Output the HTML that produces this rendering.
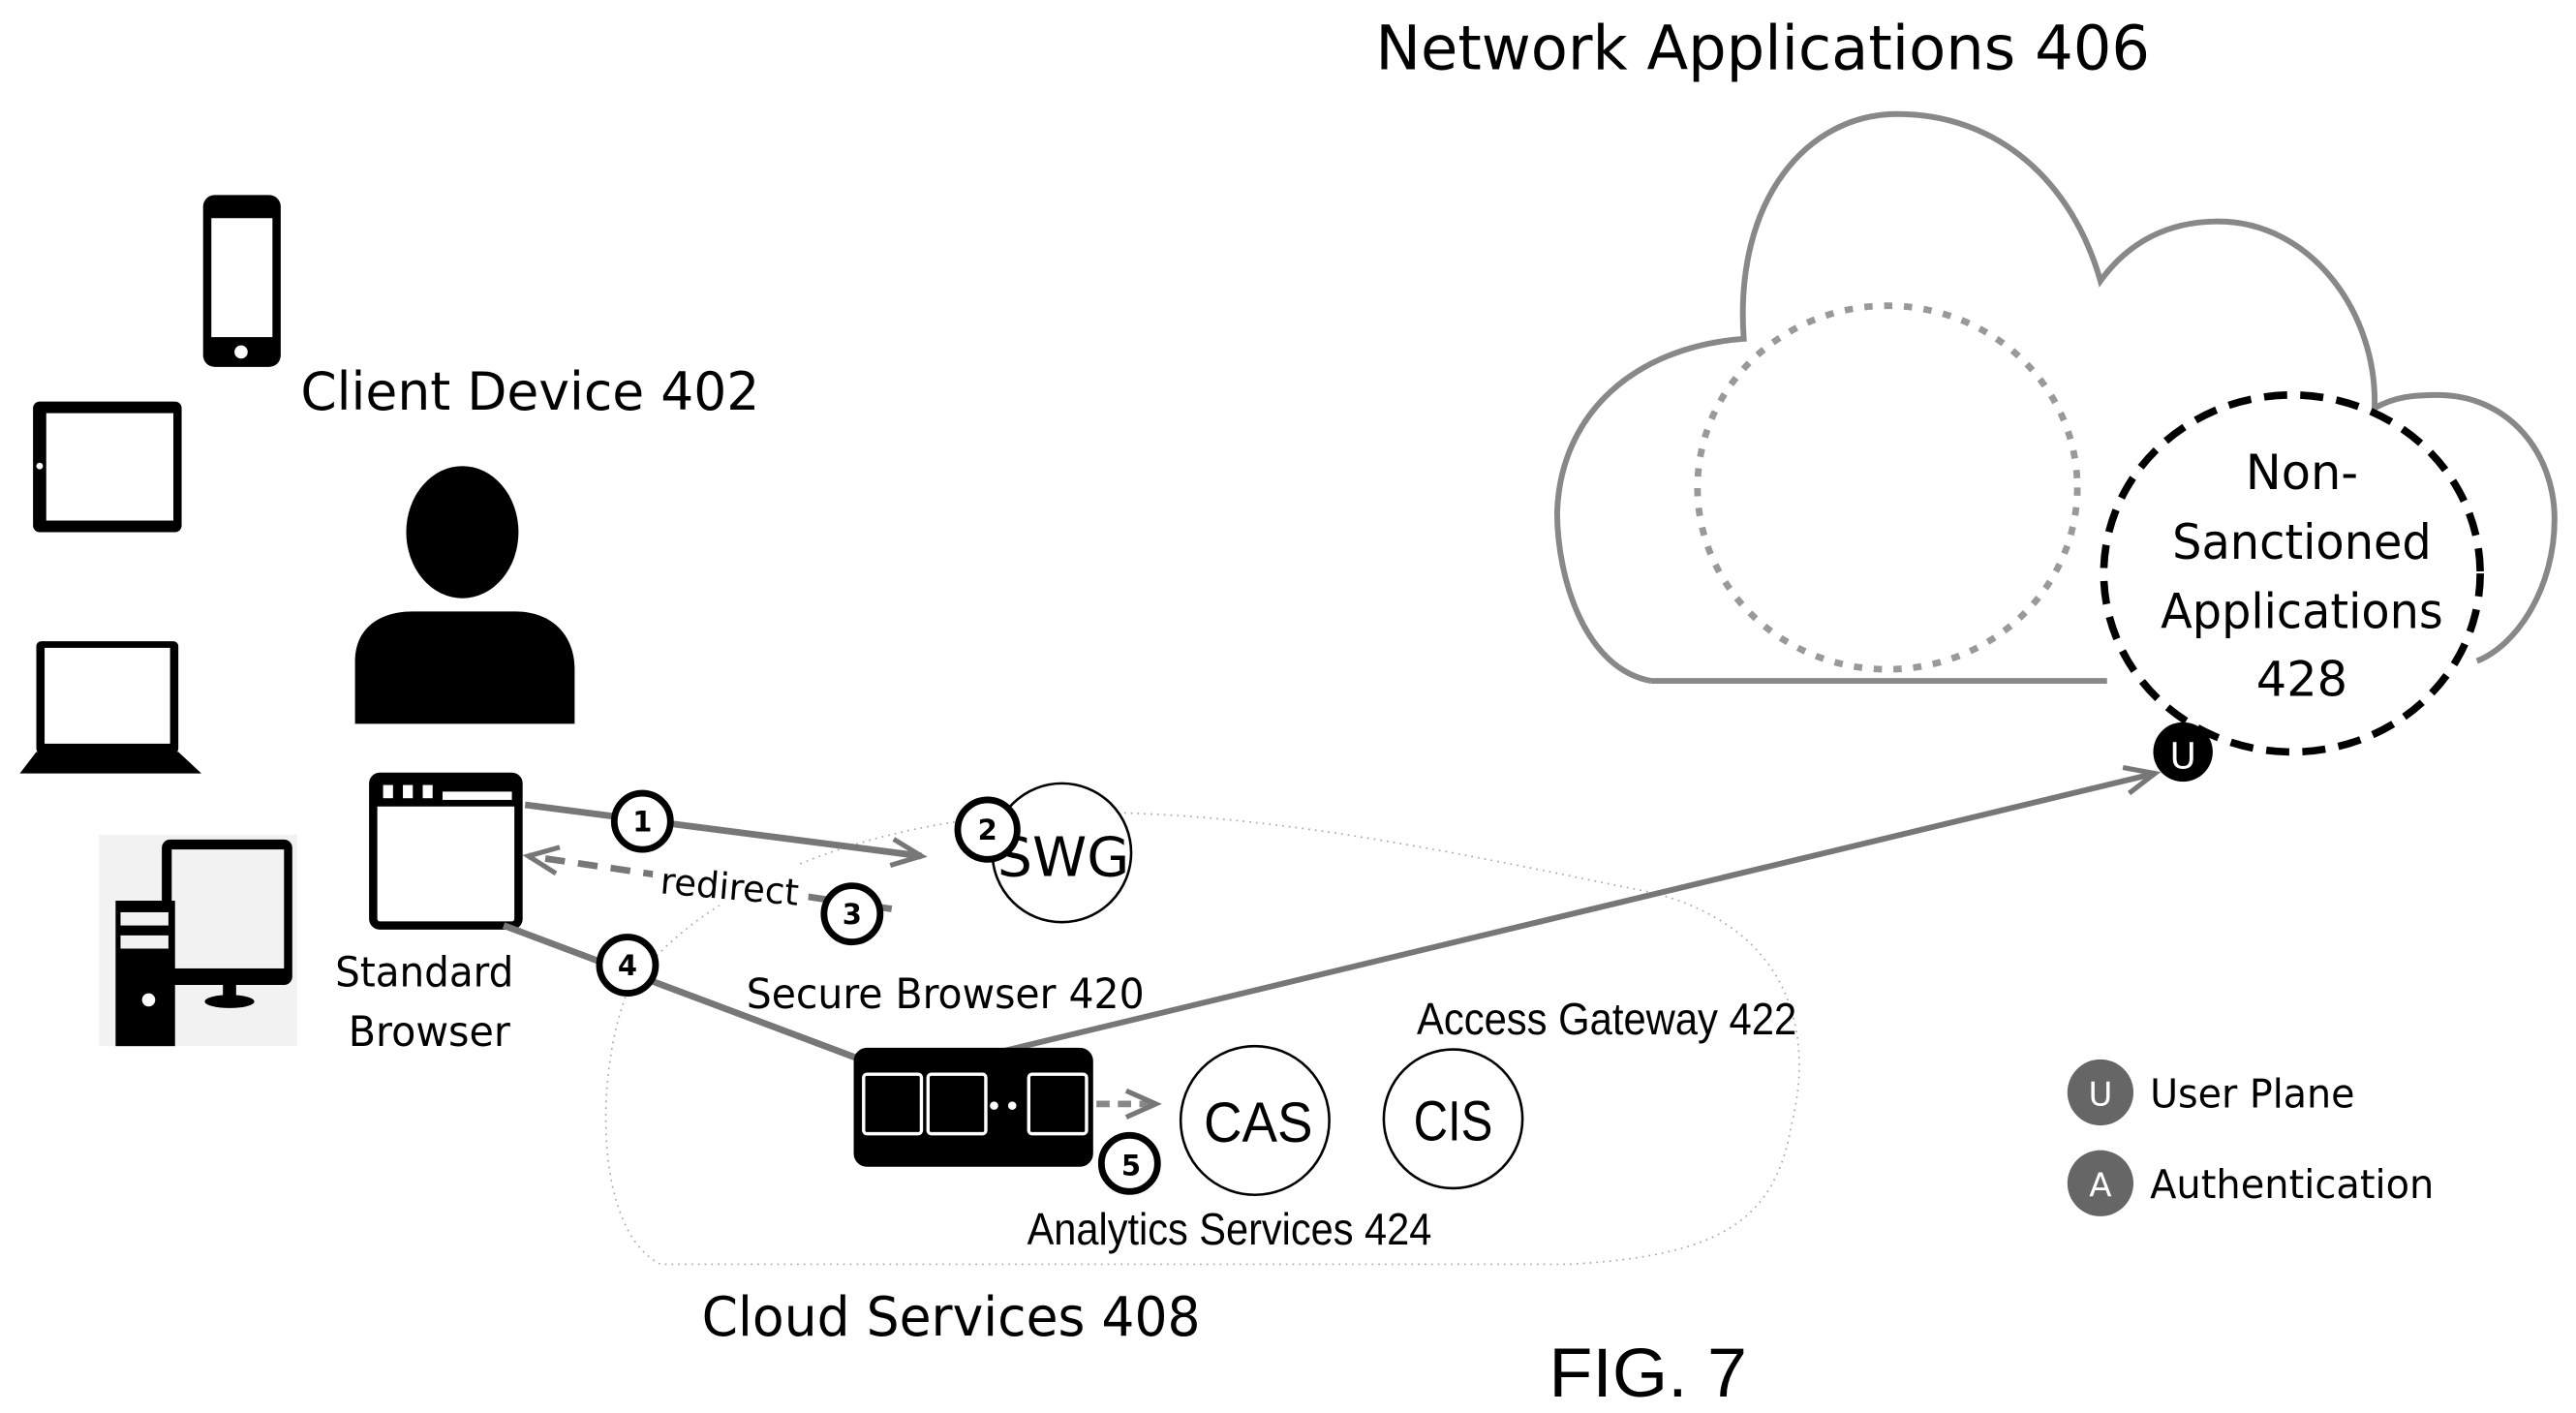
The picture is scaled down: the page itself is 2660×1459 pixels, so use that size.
<!DOCTYPE html>
<html><head><meta charset="utf-8"><style>
html,body{margin:0;padding:0;background:#fff;}
svg{display:block}
text{font-family:"DejaVu Sans","Liberation Sans",sans-serif;fill:#000}
.a{font-family:"Liberation Sans",sans-serif}
</style></head><body>
<svg width="2660" height="1459" viewBox="0 0 1560 855" preserveAspectRatio="none" xmlns="http://www.w3.org/2000/svg">
<defs>
<marker id="ah2" markerWidth="24" markerHeight="20" refX="20" refY="10" orient="auto" markerUnits="userSpaceOnUse"><path d="M2,2 L20,10 L2,18" fill="none" stroke="#777" stroke-width="3"/></marker>
</defs>
<text x="833" y="42" font-size="37" textLength="469" lengthAdjust="spacingAndGlyphs">Network Applications 406</text>
<!-- big cloud -->
<path d="M1000,412 C960,405 943,350 943,310 C945,250 990,210 1056,205 C1050,120 1095,69 1149,69 C1210,69 1255,110 1272,170 C1290,145 1315,134 1343,134 C1400,134 1440,190 1438,247 C1450,240 1462,239 1476,239 C1520,239 1547,275 1547,314 C1547,355 1525,390 1500,400" fill="none" stroke="#888" stroke-width="3.5"/>
<path d="M1000,412 L1276,412" stroke="#888" stroke-width="3.5"/>
<ellipse cx="1143" cy="295" rx="115" ry="110" fill="none" stroke="#999" stroke-width="4" stroke-dasharray="5,7"/>
<ellipse cx="1388" cy="347" rx="114" ry="108" fill="#fff" stroke="#000" stroke-width="4.5" stroke-dasharray="14,8"/>
<g font-size="29" text-anchor="middle"><text x="1394" y="296">Non-</text><text x="1394" y="338" textLength="157" lengthAdjust="spacingAndGlyphs">Sanctioned</text><text x="1394" y="380" textLength="171" lengthAdjust="spacingAndGlyphs">Applications</text><text x="1394" y="421">428</text></g>
<!-- cloud services -->
<path d="M380,600 C420,540 520,495 640,492 C760,488 900,520 1000,540 C1080,560 1100,620 1085,680 C1075,740 1040,760 950,765 L400,765 C360,745 360,650 380,600 Z" fill="none" stroke="#aaa" stroke-width="1" stroke-dasharray="1,3"/>
<!-- long arrow -->
<line x1="570" y1="645" x2="1305" y2="468" stroke="#777" stroke-width="3.5" marker-end="url(#ah2)"/>
<circle cx="1322" cy="455" r="18" fill="#000"/><text x="1322" y="465" font-size="22" text-anchor="middle" style="fill:#fff">U</text>
<!-- devices -->
<rect x="123" y="118" width="47" height="104" rx="7" fill="#000"/><rect x="128" y="132" width="37" height="72" fill="#fff"/><circle cx="146" cy="213" r="4" fill="#fff"/>
<rect x="20" y="243" width="90" height="79" rx="4" fill="#000"/><rect x="28" y="250" width="77" height="65" fill="#fff"/><circle cx="24" cy="282" r="2" fill="#fff"/>
<rect x="22" y="388" width="86" height="68" rx="3" fill="#000"/><rect x="27" y="392" width="76" height="58" fill="#fff"/><path d="M22,455 L108,455 L122,468 L12,468 Z" fill="#000"/>
<rect x="60" y="505" width="120" height="128" fill="#f2f2f2"/>
<rect x="98" y="508" width="79" height="88" rx="5" fill="#000"/><rect x="104" y="514" width="68" height="72" fill="#f2f2f2"/><rect x="135" y="595" width="8" height="8" fill="#000"/><ellipse cx="139" cy="606" rx="15" ry="4" fill="#000"/>
<rect x="70" y="545" width="36" height="88" fill="#000"/><rect x="73" y="552" width="29" height="8" fill="#f2f2f2"/><rect x="73" y="566" width="29" height="8" fill="#f2f2f2"/><circle cx="90" cy="605" r="4" fill="#fff"/>
<text x="182" y="248" font-size="32" textLength="278" lengthAdjust="spacingAndGlyphs">Client Device 402</text>
<ellipse cx="280" cy="322" rx="34" ry="40" fill="#000"/>
<path d="M215,438 L215,400 C215,380 230,370 250,370 L312,370 C335,370 348,385 348,405 L348,438 Z" fill="#000"/>
<!-- standard browser -->
<rect x="226" y="470" width="88" height="90" rx="4" fill="#fff" stroke="#000" stroke-width="5"/>
<rect x="226" y="470" width="88" height="18" fill="#000"/>
<rect x="232" y="475" width="6" height="8" fill="#fff"/><rect x="244" y="475" width="6" height="8" fill="#fff"/><rect x="256" y="475" width="6" height="8" fill="#fff"/><rect x="268" y="479" width="42" height="5" fill="#fff"/>
<text x="203" y="597" font-size="25" textLength="108" lengthAdjust="spacingAndGlyphs">Standard</text>
<text x="211" y="633" font-size="25" textLength="98" lengthAdjust="spacingAndGlyphs">Browser</text>
<!-- arrows -->
<line x1="318" y1="487" x2="558" y2="518" stroke="#777" stroke-width="4" marker-end="url(#ah2)"/>
<line x1="540" y1="550" x2="320" y2="518" stroke="#777" stroke-width="4" stroke-dasharray="12,8" marker-end="url(#ah2)"/>
<rect x="395" y="520" width="95" height="28" fill="#fff" transform="rotate(5 440 535)"/>
<text x="400" y="544" font-size="22" textLength="84" lengthAdjust="spacingAndGlyphs" transform="rotate(5 440 535)">redirect</text>
<line x1="305" y1="560" x2="545" y2="650" stroke="#777" stroke-width="4"/>
<circle cx="643" cy="516" r="42" fill="#fff" stroke="#000" stroke-width="1.5"/>
<text x="644" y="530" font-size="33" text-anchor="middle" textLength="80" lengthAdjust="spacingAndGlyphs">SWG</text>
<g font-size="17" font-weight="bold" text-anchor="middle">
<circle cx="389" cy="497" r="17" fill="#fff" stroke="#000" stroke-width="4"/><text x="389" y="503">1</text>
<circle cx="598" cy="502" r="18" fill="#fff" stroke="#000" stroke-width="4"/><text x="598" y="508">2</text>
<circle cx="516" cy="553" r="17" fill="#fff" stroke="#000" stroke-width="4"/><text x="516" y="559">3</text>
<circle cx="380" cy="584" r="17" fill="#fff" stroke="#000" stroke-width="4"/><text x="380" y="590">4</text>
</g>
<text x="452" y="610" font-size="25" textLength="241" lengthAdjust="spacingAndGlyphs">Secure Browser 420</text>
<!-- black box -->
<rect x="517" y="634" width="145" height="72" rx="8" fill="#000"/>
<g fill="#000" stroke="#fff" stroke-width="2"><rect x="523" y="650" width="35" height="36" rx="2"/><rect x="562" y="650" width="35" height="36" rx="2"/><rect x="623" y="650" width="35" height="36" rx="2"/></g>
<circle cx="602" cy="669" r="2.5" fill="#fff"/><circle cx="613" cy="669" r="2.5" fill="#fff"/>
<line x1="664" y1="668" x2="700" y2="668" stroke="#888" stroke-width="4" stroke-dasharray="8,5" marker-end="url(#ah2)"/>
<circle cx="760" cy="678" r="45" fill="#fff" stroke="#000" stroke-width="1.5"/><text x="762" y="691" font-size="34" text-anchor="middle" class="a" textLength="66" lengthAdjust="spacingAndGlyphs">CAS</text>
<circle cx="880" cy="677" r="42" fill="#fff" stroke="#000" stroke-width="1.5"/><text x="880" y="690" font-size="34" text-anchor="middle" class="a" textLength="48" lengthAdjust="spacingAndGlyphs">CIS</text>
<circle cx="684" cy="704" r="17" fill="#fff" stroke="#000" stroke-width="4"/><text x="685" y="711" font-size="17" font-weight="bold" text-anchor="middle">5</text>
<text x="858" y="626" font-size="27" class="a" textLength="230" lengthAdjust="spacingAndGlyphs">Access Gateway 422</text>
<text x="622" y="753" font-size="27" class="a" textLength="245" lengthAdjust="spacingAndGlyphs">Analytics Services 424</text>
<text x="425" y="808" font-size="33" textLength="302" lengthAdjust="spacingAndGlyphs">Cloud Services 408</text>
<text x="938" y="845" font-size="42" class="a" textLength="120" lengthAdjust="spacingAndGlyphs">FIG. 7</text>
<circle cx="1272" cy="661" r="20" fill="#666"/><text x="1272" y="669" font-size="20" text-anchor="middle" style="fill:#fff">U</text>
<circle cx="1272" cy="716" r="20" fill="#666"/><text x="1272" y="724" font-size="20" text-anchor="middle" style="fill:#fff">A</text>
<text x="1302" y="670" font-size="24" textLength="124" lengthAdjust="spacingAndGlyphs">User Plane</text>
<text x="1302" y="725" font-size="24" textLength="172" lengthAdjust="spacingAndGlyphs">Authentication</text>
</svg>
</body></html>
